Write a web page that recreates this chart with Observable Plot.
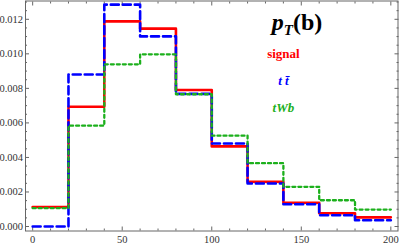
<!DOCTYPE html>
<html><head><meta charset="utf-8">
<script src="https://cdn.jsdelivr.net/npm/d3@7"></script>
<script src="https://cdn.jsdelivr.net/npm/@observablehq/plot@0.6"></script>
<style>body{margin:0;background:#fff}</style>
</head><body><div id="chart"></div>
<script>
const binEdges = [0,20,40,60,80,100,120,140,160,180,200];
const signal = [0.00113,0.00694,0.01188,0.01146,0.00791,0.00464,0.00259,0.00138,0.00077,0.00053];
const ttbar  = [0.00000,0.00880,0.01285,0.01101,0.00768,0.00481,0.00249,0.00129,0.00065,0.00036];
const tWb    = [0.00106,0.00584,0.00939,0.00997,0.00766,0.00526,0.00367,0.00230,0.00152,0.00098];
const xTicks = [0,50,100,150,200];
const yTicks = [0,0.002,0.004,0.006,0.008,0.010,0.012];
const xMinor = d3.range(0,201,10).filter(v => v % 50 !== 0);
const yMinor = d3.range(0,27).map(i => i*0.0005).filter(v => Math.abs(v*1000 % 2) > 1e-6 && Math.abs(v*1000 % 2 - 2) > 1e-6);
const series = [
  {name:"signal", values:signal, color:"#ff0000"},
  {name:"ttbar", values:ttbar, color:"#0000ff"},
  {name:"tWb", values:tWb, color:"#1cb01c"}
];
const steps = s => binEdges.map((x,i) => ({x, y: s.values[Math.min(i, s.values.length-1)]}));
const serif = "Liberation Serif";
const frameColor = "#666";

const plot = Plot.plot({
  width: 399, height: 247,
  marginLeft: 25, marginRight: 1.5, marginTop: 0.5, marginBottom: 16.5,
  style: {fontFamily: serif, fontSize: "10.5px", color: "#333", background: "#fff"},
  x: {domain: [-4, 204]},
  y: {domain: [-0.00026, 0.01306]},
  marks: [
    Plot.frame({stroke: frameColor}),
    Plot.axisX(xTicks, {anchor:"bottom", tickSize:-4, tickPadding:9, stroke: frameColor, label:null, tickFormat: d=>d}),
    Plot.axisX(xTicks, {anchor:"top", tickSize:-4, text:null, stroke: frameColor, label:null}),
    Plot.axisX(xMinor, {anchor:"bottom", tickSize:-2, text:null, stroke: frameColor, label:null}),
    Plot.axisX(xMinor, {anchor:"top", tickSize:-2, text:null, stroke: frameColor, label:null}),
    Plot.axisY(yTicks, {anchor:"left", tickSize:-4, tickPadding:6.5, stroke: frameColor, label:null, tickFormat: d3.format(".3f")}),
    Plot.axisY(yTicks, {anchor:"right", tickSize:-4, text:null, stroke: frameColor, label:null}),
    Plot.axisY(yMinor, {anchor:"left", tickSize:-2, text:null, stroke: frameColor, label:null}),
    Plot.axisY(yMinor, {anchor:"right", tickSize:-2, text:null, stroke: frameColor, label:null}),
    Plot.line(steps(series[0]), {x:"x", y:"y", curve:"step-after", stroke: series[0].color, strokeWidth:2.6}),
    Plot.line(steps(series[1]), {x:"x", y:"y", curve:"step-after", stroke: series[1].color, strokeWidth:2.6, strokeDasharray:"8,4"}),
    Plot.line(steps(series[2]), {x:"x", y:"y", curve:"step-after", stroke: series[2].color, strokeWidth:2.3, strokeDasharray:"3,3"}),
    Plot.text(["PT"], {x:133.5, y:0.01180, text:d=>d, textAnchor:"start", fontSize:24, fontWeight:"bold", fill:"#000", className:"ptlabel"}),
    Plot.text(["signal"], {x:140, y:0.0100, text:d=>d, fontSize:13, fontWeight:"bold", fill: series[0].color}),
    Plot.text(["t t\u0304"], {x:140, y:0.00846, text:d=>d, fontSize:13, fontWeight:"bold", fontStyle:"italic", fill: series[1].color}),
    Plot.text(["tWb"], {x:140, y:0.0069, text:d=>d, fontSize:13, fontWeight:"bold", fontStyle:"italic", fill: series[2].color})
  ]
});
document.getElementById("chart").append(plot);
d3.select(plot).selectAll(".ptlabel text").each(function(){
  const t = d3.select(this);
  t.text(null);
  t.append("tspan").attr("font-style","italic").text("p");
  t.append("tspan").attr("font-style","italic").attr("font-size","15").attr("dy","5").text("T");
  t.append("tspan").attr("dy","-5").text("(b)");
});
d3.select(plot).selectAll("text").attr("font-family", serif).style("font-family", serif);
</script>
</body></html>
